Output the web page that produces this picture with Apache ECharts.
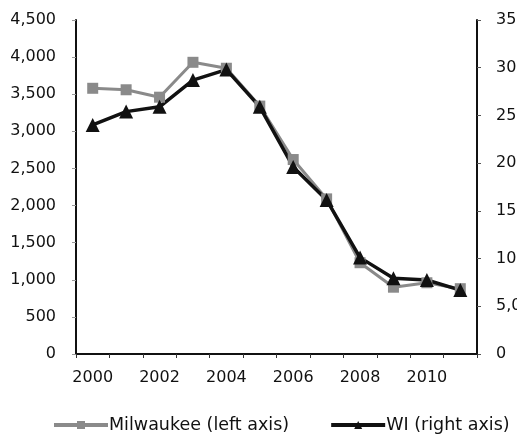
<!DOCTYPE html>
<html><head><meta charset="utf-8">
<script src="https://cdn.jsdelivr.net/npm/echarts@6/dist/echarts.min.js"></script>
<style>html,body{margin:0;padding:0;background:#fff}#c{width:517px;height:438px}</style>
</head><body><div id="c"></div>
<script>
const years = ['2000','2001','2002','2003','2004','2005','2006','2007','2008','2009','2010','2011'];
const milwaukee = [3580, 3560, 3460, 3930, 3850, 3340, 2620, 2090, 1230, 900, 960, 880];
const wi = [24000, 25400, 25900, 28700, 29800, 25900, 19600, 16150, 10100, 7950, 7750, 6700];
const leftTicks = {min: 0, max: 4500, interval: 500};
const rightTicks = {min: 0, max: 35000, interval: 5000};

const fmt = v => v.toLocaleString('en-US');
const font = 'DejaVu Sans';
const chart = echarts.init(document.getElementById('c'), null, {renderer: 'canvas'});
chart.setOption({
  backgroundColor: '#fff',
  animation: false,
  grid: {left: 76, right: 40, top: 20, bottom: 84, containLabel: false, outerBoundsMode: 'none'},
  legend: {
    bottom: 4, left: 52, width: 600, padding: 0, itemGap: 40, itemWidth: 54, itemHeight: 10,
    textStyle: {fontFamily: font, fontSize: 17.5, color: '#111', padding: [0, 0, 0, -4]},
    lineStyle: {width: 4},
    data: ['Milwaukee (left axis)', 'WI (right axis)']
  },
  xAxis: {
    type: 'category', data: years, boundaryGap: true,
    axisLine: {lineStyle: {color: '#111', width: 2}},
    axisTick: {show: true, length: 4, lineStyle: {color: '#333'}, interval: 0},
    axisLabel: {interval: 1, fontFamily: font, fontSize: 16, color: '#111', margin: 16}
  },
  yAxis: [{
    type: 'value', min: leftTicks.min, max: leftTicks.max, interval: leftTicks.interval,
    splitLine: {show: false},
    axisLine: {show: true, lineStyle: {color: '#111', width: 2}},
    axisTick: {show: true, length: 4, lineStyle: {color: '#999'}},
    axisLabel: {fontFamily: font, fontSize: 16, color: '#111', margin: 20, formatter: fmt}
  }, {
    type: 'value', position: 'right', min: rightTicks.min, max: rightTicks.max, interval: rightTicks.interval,
    splitLine: {show: false},
    axisLine: {show: true, lineStyle: {color: '#111', width: 2}},
    axisTick: {show: true, length: 4, lineStyle: {color: '#555'}},
    axisLabel: {fontFamily: font, fontSize: 16, color: '#111', margin: 19, formatter: fmt}
  }],
  series: [{
    name: 'Milwaukee (left axis)', type: 'line', yAxisIndex: 0, data: milwaukee,
    symbol: 'rect', symbolSize: 11,
    lineStyle: {color: '#8a8a8a', width: 3},
    itemStyle: {color: '#8a8a8a'}
  }, {
    name: 'WI (right axis)', type: 'line', yAxisIndex: 1, data: wi,
    symbol: 'triangle', symbolSize: 14,
    lineStyle: {color: '#111', width: 3.5},
    itemStyle: {color: '#111'}
  }]
});
</script></body></html>
